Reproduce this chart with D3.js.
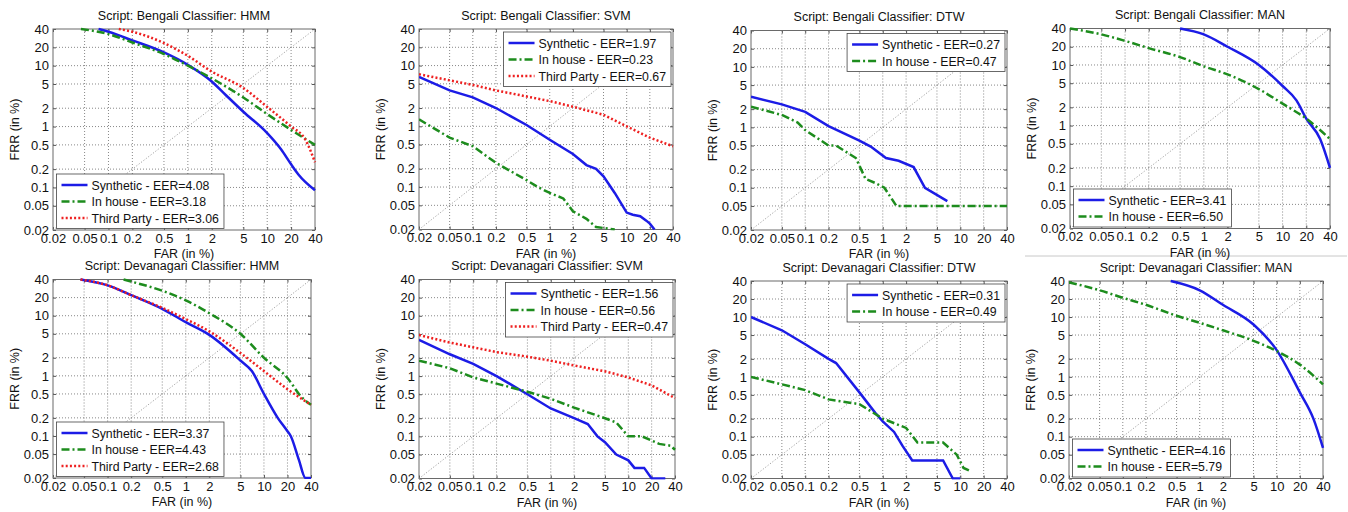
<!DOCTYPE html>
<html>
<head>
<meta charset="utf-8">
<script src="https://cdn.jsdelivr.net/npm/d3@7"></script>
<style>
  body { margin: 0; background: #fff; }
  svg { display: block; font-family: "Liberation Sans", Arial, sans-serif; }
</style>
</head>
<body>
<svg id="chart" width="1348" height="512"></svg>
<script>
// tick values, shared by both axes (FAR / FRR in %)
var tickValues = [0.02, 0.05, 0.1, 0.2, 0.5, 1, 2, 5, 10, 20, 40]
var tickLabels = ["0.02", "0.05", "0.1", "0.2", "0.5", "1", "2", "5", "10", "20", "40"]

var seriesNames = ["Synthetic", "In house", "Third Party"]

// Bengali, HMM  [FAR, FRR]
var bnHmmSyn = [[0.075,40],[0.1,36],[0.2,26],[0.5,16.5],[1,10.3],[2,5.5],[3,3.3],[5,1.75],[10,0.78],[15,0.42],[20,0.24],[25,0.16],[40,0.09]]
var bnHmmInh = [[0.045,40],[0.1,33],[0.2,24],[0.5,15.5],[1,10],[2,6.2],[5,3],[10,1.6],[20,0.88],[40,0.5]]
var bnHmmThp = [[0.135,40],[0.2,36],[0.5,23.5],[1,14.5],[2,8],[5,4.3],[10,2.1],[20,1.0],[30,0.62],[40,0.26]]
var bnHmmEer = [4.08, 3.18, 3.06]

// Bengali, SVM
var bnSvmSyn = [[0.02,6.5],[0.05,3.9],[0.1,3.0],[0.2,2.0],[0.5,1.05],[1,0.6],[2,0.35],[3,0.23],[4,0.2],[5,0.15],[7,0.08],[10,0.038],[12,0.035],[15,0.033],[18,0.028],[20,0.025],[23,0.02]]
var bnSvmInh = [[0.02,1.3],[0.05,0.65],[0.1,0.47],[0.2,0.25],[0.5,0.13],[0.7,0.1],[1,0.08],[1.5,0.065],[2,0.04],[3,0.03],[4,0.022],[7,0.02]]
var bnSvmThp = [[0.02,7.2],[0.1,4.8],[0.2,3.9],[0.5,3.1],[1,2.6],[2,2.1],[5,1.55],[10,1.0],[20,0.65],[40,0.47]]
var bnSvmEer = [1.97, 0.23, 0.67]

// Bengali, DTW
var bnDtwSyn = [[0.02,3.2],[0.05,2.4],[0.1,1.8],[0.2,1.05],[0.5,0.6],[0.7,0.48],[1.1,0.31],[1.6,0.28],[2.5,0.22],[3.5,0.1],[6.8,0.06]]
var bnDtwInh = [[0.02,2.2],[0.05,1.6],[0.08,1.2],[0.1,0.9],[0.2,0.5],[0.25,0.5],[0.45,0.31],[0.6,0.14],[0.8,0.12],[1.05,0.1],[1.5,0.05],[40,0.05]]
var bnDtwEer = [0.27, 0.47]

// Bengali, MAN
var bnManSyn = [[0.5,40],[1,32],[2,20],[5,10],[10,4.5],[15,2.6],[20,1.3],[30,0.6],[40,0.2]]
var bnManInh = [[0.02,40],[0.05,32],[0.1,25],[0.2,19],[0.5,13.5],[1,9.5],[2,7],[5,4],[10,2.3],[20,1.3],[40,0.6]]
var bnManEer = [3.41, 6.50]

// Devanagari, HMM
var dvHmmSyn = [[0.045,40],[0.1,32],[0.2,22],[0.5,13],[1,7.8],[2,4.8],[5,1.8],[7,1.2],[10,0.5],[15,0.2],[20,0.12],[22,0.1],[28,0.04],[34,0.02],[40,0.02]]
var dvHmmInh = [[0.16,40],[0.2,37],[0.5,26],[1,18],[2,11],[5,5],[10,2],[20,0.92],[30,0.45],[40,0.33]]
var dvHmmThp = [[0.045,40],[0.1,32],[0.2,22],[0.5,13.5],[1,8.8],[2,5.5],[5,2.4],[10,1.2],[20,0.6],[40,0.33]]
var dvHmmEer = [3.37, 4.43, 2.68]

// Devanagari, SVM
var dvSvmSyn = [[0.02,4],[0.05,2.3],[0.1,1.6],[0.2,1.0],[0.5,0.5],[1,0.29],[2,0.2],[3,0.16],[4,0.1],[5,0.08],[7,0.05],[10,0.04],[12,0.03],[16,0.03],[20,0.02],[30,0.02]]
var dvSvmInh = [[0.02,1.8],[0.05,1.35],[0.1,0.95],[0.2,0.75],[0.5,0.55],[1,0.42],[2,0.3],[5,0.2],[7,0.17],[10,0.1],[15,0.1],[20,0.085],[25,0.075],[35,0.07],[40,0.06]]
var dvSvmThp = [[0.02,4.8],[0.05,3.6],[0.1,3.0],[0.2,2.5],[0.5,2.1],[1,1.8],[2,1.5],[5,1.2],[10,0.95],[20,0.7],[40,0.43]]
var dvSvmEer = [1.56, 0.56, 0.47]

// Devanagari, DTW
var dvDtwSyn = [[0.02,10],[0.05,6],[0.1,3.5],[0.2,2.0],[0.25,1.7],[0.5,0.55],[0.8,0.25],[1,0.18],[1.4,0.12],[1.8,0.07],[2.4,0.04],[6,0.04],[8,0.02],[10,0.02]]
var dvDtwInh = [[0.02,1.0],[0.05,0.75],[0.1,0.6],[0.2,0.42],[0.5,0.35],[1,0.2],[2,0.14],[2.8,0.08],[6,0.08],[9,0.05],[11,0.03],[14,0.026]]
var dvDtwEer = [0.31, 0.49]

// Devanagari, MAN
var dvManSyn = [[0.42,40],[1,28],[2,16],[5,7.5],[10,2.8],[20,0.55],[30,0.2],[40,0.065]]
var dvManInh = [[0.02,38],[0.05,28],[0.1,21],[0.2,16],[0.5,10.5],[1,8],[2,6],[5,4],[10,2.7],[20,1.6],[40,0.75]]
var dvManEer = [4.16, 5.79]

var panels = [
    {script: "Bengali", clf: "HMM", series: [bnHmmSyn, bnHmmInh, bnHmmThp], eer: bnHmmEer, box: [53, 315, 29, 230], legend: "bl", smooth: true},
    {script: "Bengali", clf: "SVM", series: [bnSvmSyn, bnSvmInh, bnSvmThp], eer: bnSvmEer, box: [419, 673, 29, 229.5], legend: "tr"},
    {script: "Bengali", clf: "DTW", series: [bnDtwSyn, bnDtwInh], eer: bnDtwEer, box: [751, 1007, 30.5, 230], legend: "tr"},
    {script: "Bengali", clf: "MAN", series: [bnManSyn, bnManInh], eer: bnManEer, box: [1070, 1330, 28.5, 228.5], legend: "bl", smooth: true},
    {script: "Devanagari", clf: "HMM", series: [dvHmmSyn, dvHmmInh, dvHmmThp], eer: dvHmmEer, box: [53, 311, 279.5, 478], legend: "bl", smooth: true},
    {script: "Devanagari", clf: "SVM", series: [dvSvmSyn, dvSvmInh, dvSvmThp], eer: dvSvmEer, box: [419, 675, 279.5, 478.5], legend: "tr"},
    {script: "Devanagari", clf: "DTW", series: [dvDtwSyn, dvDtwInh], eer: dvDtwEer, box: [751, 1007, 281, 478.5], legend: "tr"},
    {script: "Devanagari", clf: "MAN", series: [dvManSyn, dvManInh], eer: dvManEer, box: [1069, 1323, 281, 478.5], legend: "bl", smooth: true}
]

var lineStyles = [
    {color: "#1c1ce6", dash: null},
    {color: "#1d8c1d", dash: "8,3,2,3"},
    {color: "#ee2020", dash: "2,2.2"}
]

var svg = d3.select("#chart")

// separator line left over from the source figure
svg.append("line").attr("x1", 1025).attr("x2", 1347).attr("y1", 256).attr("y2", 256)
    .attr("stroke", "#c8c8c8").attr("stroke-width", 1)

panels.forEach(function (p, pi) {
    var left = p.box[0], right = p.box[1], top = p.box[2], bottom = p.box[3]
    var x = d3.scaleLog().domain([0.02, 40]).range([left, right])
    var y = d3.scaleLog().domain([0.02, 40]).range([bottom, top])
    var g = svg.append("g")

    // grid
    g.selectAll(".gx").data(tickValues.slice(1, -1)).enter().append("line")
        .attr("x1", d => x(d)).attr("x2", d => x(d)).attr("y1", top).attr("y2", bottom)
        .attr("stroke", "#6a6a6a").attr("stroke-width", 0.8).attr("stroke-dasharray", "1,2")
    g.selectAll(".gy").data(tickValues.slice(1, -1)).enter().append("line")
        .attr("y1", d => y(d)).attr("y2", d => y(d)).attr("x1", left).attr("x2", right)
        .attr("stroke", "#6a6a6a").attr("stroke-width", 0.8).attr("stroke-dasharray", "1,2")

    // axes (ticks inward, labels outside)
    var xAxis = d3.axisBottom(x).tickValues(tickValues).tickFormat((d, i) => tickLabels[i]).tickSizeInner(-3).tickSizeOuter(0).tickPadding(6)
    var yAxis = d3.axisLeft(y).tickValues(tickValues).tickFormat((d, i) => tickLabels[i]).tickSizeInner(-3).tickSizeOuter(0).tickPadding(4)
    var xa = g.append("g").attr("transform", "translate(0," + bottom + ")").call(xAxis)
    var ya = g.append("g").attr("transform", "translate(" + left + ",0)").call(yAxis)
    g.append("g").attr("transform", "translate(0," + top + ")")
        .call(d3.axisTop(x).tickValues(tickValues).tickFormat("").tickSizeInner(-3).tickSizeOuter(0))
    g.append("g").attr("transform", "translate(" + right + ",0)")
        .call(d3.axisRight(y).tickValues(tickValues).tickFormat("").tickSizeInner(-3).tickSizeOuter(0))
    g.selectAll(".domain").remove()
    g.selectAll(".tick line").attr("stroke", "#555")
    g.selectAll(".tick text").attr("fill", "#111").style("font-size", "13px")
    xa.selectAll(".tick text").attr("dy", "0.5em")

    // box
    g.append("rect").attr("x", left).attr("y", top).attr("width", right - left).attr("height", bottom - top)
        .attr("fill", "none").attr("stroke", "#6a6a6a").attr("stroke-width", 1)

    var clipId = "clip" + pi
    g.append("clipPath").attr("id", clipId).append("rect")
        .attr("x", left).attr("y", top - 2).attr("width", right - left + 2).attr("height", bottom - top + 3)

    // diagonal FAR = FRR
    g.append("line").attr("x1", x(0.02)).attr("y1", y(0.02)).attr("x2", x(40)).attr("y2", y(40))
        .attr("stroke", "#8a8a8a").attr("stroke-width", 0.8).attr("stroke-dasharray", "1.2,1.8")

    var line = d3.line().x(d => x(d[0])).y(d => y(d[1]))
    if (p.smooth) line.curve(d3.curveMonotoneX)

    var curves = g.append("g").attr("clip-path", "url(#" + clipId + ")")
    p.series.forEach(function (s, si) {
        curves.append("path").datum(s).attr("d", line)
            .attr("fill", "none").attr("stroke", lineStyles[si].color).attr("stroke-width", 2.5)
            .attr("stroke-dasharray", lineStyles[si].dash)
    })

    // titles
    g.append("text").attr("x", (left + right) / 2).attr("y", top - 9.5).attr("text-anchor", "middle")
        .style("font-size", "12.5px").attr("fill", "#111")
        .text("Script: " + p.script + " Classifier: " + p.clf)
    g.append("text").attr("x", (left + right) / 2).attr("y", bottom + 28).attr("text-anchor", "middle")
        .style("font-size", "12.5px").attr("fill", "#111").text("FAR (in %)")
    g.append("text").attr("transform", "translate(" + (left - 34) + "," + ((top + bottom) / 2) + ") rotate(-90)")
        .attr("text-anchor", "middle").style("font-size", "12.5px").attr("fill", "#111").text("FRR (in %)")

    // legend
    var n = p.series.length
    var lg = g.append("g")
    var lbox = lg.append("rect").attr("fill", "#fff").attr("stroke", "#444").attr("stroke-width", 0.8)
    var maxW = 0
    var rows = []
    for (var i = 0; i < n; i++) {
        var t = lg.append("text").style("font-size", "12.3px").attr("fill", "#111")
            .text(seriesNames[i] + " - EER=" + p.eer[i].toFixed(2))
        maxW = Math.max(maxW, t.node().getComputedTextLength())
        rows.push(t)
    }
    var lw = 5 + 26 + 4 + maxW + 5
    var lh = n * 16.5 + 5
    var lx, ly
    if (p.legend == "bl") { lx = left + 3.5; ly = bottom - 1.5 - lh }
    else { lx = right - 2 - lw; ly = top + 3 }
    lbox.attr("x", lx).attr("y", ly).attr("width", lw).attr("height", lh)
    rows.forEach(function (t, i) {
        var cy = ly + 11 + i * 16.5
        lg.append("line").attr("x1", lx + 5).attr("x2", lx + 31).attr("y1", cy).attr("y2", cy)
            .attr("stroke", lineStyles[i].color).attr("stroke-width", 2.5).attr("stroke-dasharray", lineStyles[i].dash)
        t.attr("x", lx + 35).attr("y", cy + 4.5)
    })
})
</script>
</body>
</html>
